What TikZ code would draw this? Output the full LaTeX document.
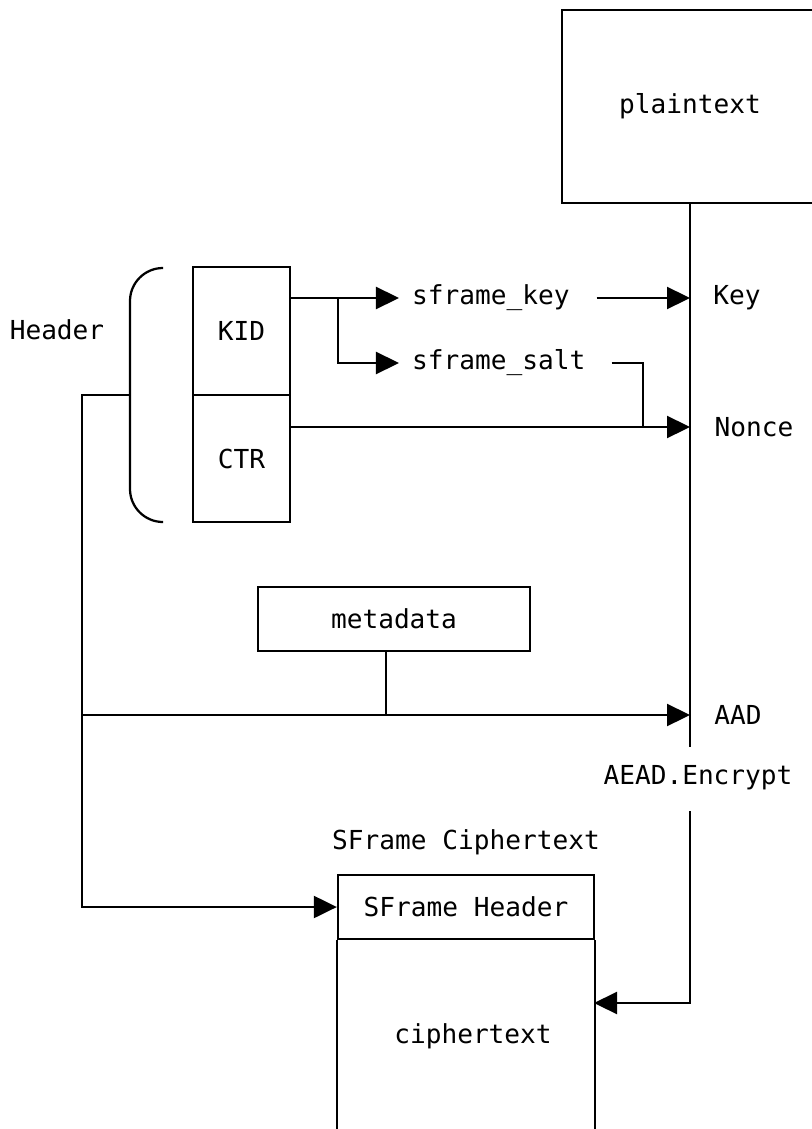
\documentclass[tikz,border=0pt]{standalone}
\usepackage{fontspec}
\setmonofont{DejaVu Sans Mono}
\usetikzlibrary{arrows.meta}

\begin{document}
\begin{tikzpicture} [
            x=0.025cm, y=-0.025cm,
            line width=1.6pt,
            every node/.style = {font=\ttfamily\fontsize{18.6}{22}\selectfont},
            box/.style = {draw=black, line width=1.6pt, inner sep=0pt},
            label/.style = {inner sep=0pt},
            arr/.style = {-{Triangle[length=0.575cm,width=0.55cm]}},
        ]
            \useasboundingbox (0,0) rectangle (811,1129);

            \node[box, minimum width=6.4cm, minimum height=4.825cm] (P) at (690,106.5) {plaintext};
            \node[box, minimum width=2.425cm, minimum height=3.2cm] (KID) at (241.5,331) {KID};
            \node[box, minimum width=2.425cm, minimum height=3.175cm] (CTR) at (241.5,458.5) {CTR};
            \node[box, minimum width=6.8cm, minimum height=1.6cm] (M) at (394,619) {metadata};
            \node[box, minimum width=6.4cm, minimum height=1.6cm] (SH) at (466,907) {SFrame Header};

            \node[label] (H) at (57,330) {Header};
            \node[label, anchor=west] (SK) at (411,298) {sframe\_key};
            \node[label, anchor=west] (SS) at (411,363) {sframe\_salt};
            \node[label] (K) at (737,298) {Key};
            \node[label] (N) at (754,427) {Nonce};
            \node[label] (A) at (738,715) {AAD};
            \node[label] (AE) at (698,778) {AEAD.Encrypt};
            \node[label] (SC) at (466,842) {SFrame Ciphertext};
            \node[label] (CT) at (473,1036) {ciphertext};

            \coordinate (kin) at (690,298);
            \coordinate (nin) at (690,427);
            \coordinate (ain) at (690,715);
            \coordinate (e1) at (690,747);
            \coordinate (e2) at (690,811);
            \coordinate (e3) at (690,1003);
            \coordinate (ce) at (594,1003);
            \coordinate (kj) at (338,298);
            \coordinate (nj) at (643,427);
            \coordinate (mj) at (386,715);
            \coordinate (bm) at (130,395);
            \coordinate (hl) at (82,395);
            \coordinate (hj) at (82,715);

            % brace round the header
            \draw[rounded corners=0.825cm] (163,268) -- (130,268) -- (130,522) -- (163,522);

            % encryption line
            \draw (P.south) -- (e1);
            \draw[arr] (e2) -- (e3) -- (ce);

            % key and salt
            \draw[arr] (KID.east |- kj) -- ([xshift=-0.3cm]SK.west);
            \draw[arr] (kj) |- ([xshift=-0.3cm]SS.west);
            \draw[arr] ([xshift=0.65cm]SK.east) -- (kin);
            \draw ([xshift=0.63cm]SS.east) -| (nj);
            \draw[arr] (CTR.east |- nin) -- (nin);

            % header to aad and sframe header
            \draw[arr] (bm) -- (hl) |- (SH.west);
            \draw[arr] (hj) -- (ain);
            \draw (M.south -| mj) -- (mj);

            % ciphertext box
            \draw (SH.south west) -- ++(0,200);
            \draw (SH.south east) -- ++(0,200);
        \end{tikzpicture}
\end{document}
